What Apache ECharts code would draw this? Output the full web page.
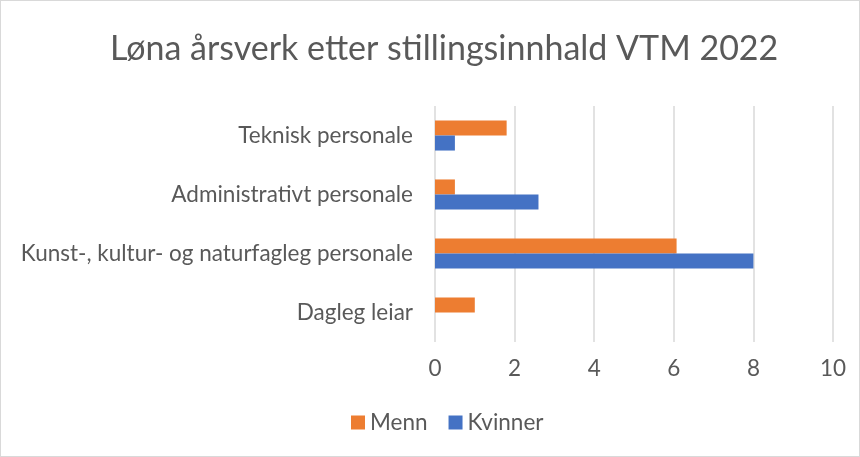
<!DOCTYPE html>
<html>
<head>
<meta charset="utf-8">
<script src="https://cdn.jsdelivr.net/npm/echarts@6/dist/echarts.min.js"></script>
<style>
  html, body { margin: 0; padding: 0; background: #fff; }
  #chart { width: 858px; height: 455px; border: 1px solid #d9d9d9; }
</style>
</head>
<body>
<div id="chart"></div>
<script>
const categories = ['Dagleg leiar', 'Kunst-, kultur- og naturfagleg personale', 'Administrativt personale', 'Teknisk personale'];
const menn = [1, 6.07, 0.5, 1.8];
const kvinner = [0, 8, 2.6, 0.5];
const xTicks = [0, 2, 4, 6, 8, 10];

const font = 'Lato, Open Sans, sans-serif';
const myChart = echarts.init(document.getElementById('chart'));
const option = {
  animation: false,
  title: {
    text: 'Løna årsverk etter stillingsinnhald VTM 2022',
    left: 104,
    top: 26,
    textStyle: { fontFamily: font, fontSize: 34, fontWeight: 'normal', color: '#595959' }
  },
  legend: {
    data: ['Menn', 'Kvinner'],
    bottom: 17,
    left: 345,
    itemWidth: 14,
    itemHeight: 14,
    itemGap: 21,
    icon: 'rect',
    textStyle: { fontFamily: font, fontSize: 22.5, color: '#595959' }
  },
  grid: { left: 434, right: 26, top: 105, bottom: 114 },
  xAxis: {
    type: 'value',
    min: xTicks[0],
    max: xTicks[xTicks.length - 1],
    interval: 2,
    axisLine: { show: false },
    axisTick: { show: false },
    axisLabel: { fontFamily: font, fontSize: 22.5, color: '#595959', margin: 15 },
    splitLine: { lineStyle: { color: '#d9d9d9', width: 1.5 } }
  },
  yAxis: {
    type: 'category',
    data: categories,
    axisLine: { show: false },
    axisTick: { show: false },
    axisLabel: { fontFamily: font, fontSize: 22.5, color: '#595959', margin: 22 }
  },
  series: [
    {
      name: 'Menn',
      type: 'bar',
      data: menn,
      barGap: '0%',
      barCategoryGap: '49%',
      itemStyle: { color: '#ed7d31' }
    },
    {
      name: 'Kvinner',
      type: 'bar',
      data: kvinner,
      barGap: '0%',
      barCategoryGap: '49%',
      itemStyle: { color: '#4472c4' }
    }
  ]
};
option && myChart.setOption(option);
</script>
</body>
</html>
